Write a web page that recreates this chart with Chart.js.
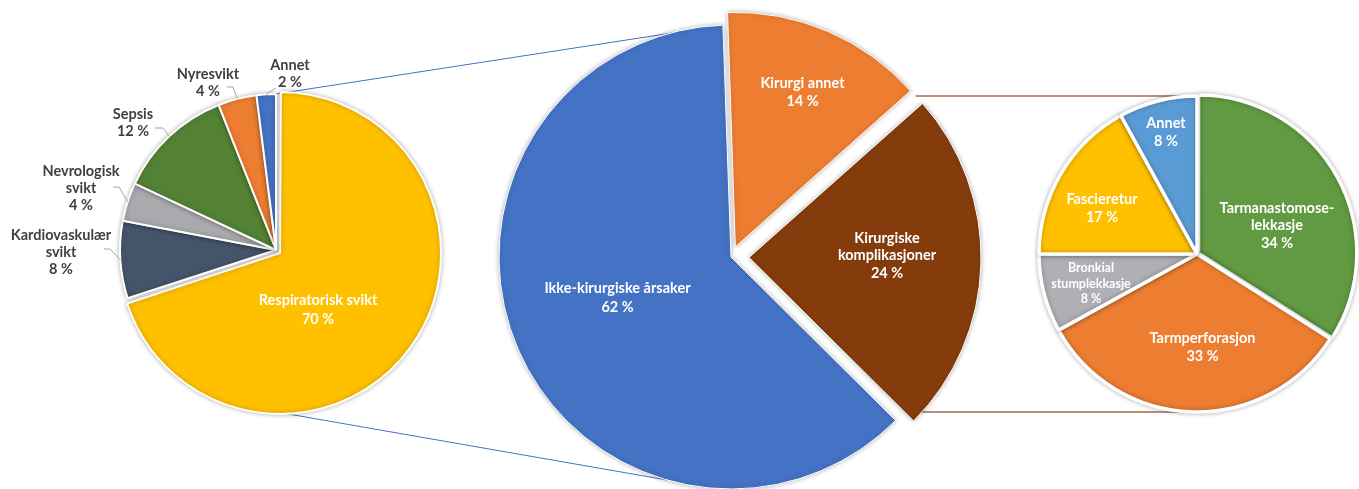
<!DOCTYPE html>
<html><head><meta charset="utf-8">
<script src="https://cdn.jsdelivr.net/npm/chart.js@4.4.1/dist/chart.umd.min.js"></script>
<style>
html,body{margin:0;padding:0;background:#fff;}
#wrap{position:relative;width:1359px;height:489px;overflow:hidden;background:#fff;}
canvas{position:absolute;left:0;top:0;}
</style></head><body>
<div id="wrap">
<canvas id="links" width="1359" height="489"></canvas>
<canvas id="mid" width="1359" height="489"></canvas>
<canvas id="left" width="1359" height="489"></canvas>
<canvas id="right" width="1359" height="489"></canvas>
</div>
<script>
// ---- data ----
const leftCategories = [['Respiratorisk svikt'], ['Kardiovaskulær', 'svikt'], ['Nevrologisk', 'svikt'], ['Sepsis'], ['Nyresvikt'], ['Annet']];
const leftValues = [70, 8, 4, 12, 4, 2];
const midCategories = [['Kirurgi annet'], ['Kirurgiske', 'komplikasjoner'], ['Ikke-kirurgiske årsaker']];
const midValues = [14, 24, 62];
const rightCategories = [['Tarmanastomose-', 'lekkasje'], ['Tarmperforasjon'], ['Bronkial', 'stumplekkasje'], ['Fascieretur'], ['Annet']];
const rightValues = [34, 33, 8, 17, 8];

// ---- styles / layout ----
const FONT = 'Lato';
const BASE_SIZE = 14.5;
const W = 1359, H = 489;
const leftColors = ['#FFC000', '#44546A', '#A9AAAD', '#548235', '#ED7D31', '#4472C4'];
const midColors = ['#ED7D31', '#843C0C', '#4472C4'];
const rightColors = ['#619A42', '#ED7D31', '#AFB0B3', '#FFC000', '#5B9BD5'];
const DARK = '#404040', WHITE = '#ffffff';

const leftLayout = [
  {dx: 42, dy: 59.5, color: WHITE, lh: 19},
  {dx: -215, dy: 2.5, color: DARK, leader: [-172, -1, 6]},
  {dx: -195, dy: -61.5, color: DARK, leader: [-163, -63, 6]},
  {dx: -143, dy: -127.5, color: DARK, leader: [-121, -122, 8]},
  {dx: -68, dy: -167.5, color: DARK, leader: [-49, -163, 6]},
  {dx: 14, dy: -176, color: DARK, leader: [0, -162, 0]}
];
const midLayout = [
  {dx: 71.5, dy: -164.5, color: WHITE, lh: 18.5},
  {dx: 156, dy: -1.5, color: WHITE, lh: 17.5},
  {dx: -113.5, dy: 40.5, color: WHITE, lh: 19}
];
const rightLayout = [
  {dx: 80, dy: -28.5, color: WHITE, lh: 17.5},
  {dx: 5.5, dy: 93, color: WHITE, lh: 18},
  {dx: -106, dy: 29.5, color: WHITE, size: 12.5, lh: 15.5},
  {dx: -95, dy: -46, color: WHITE, lh: 18},
  {dx: -31, dy: -122, color: WHITE, lh: 18}
];

function pad(cx, cy) {
  return {left: Math.max(0, 2 * cx - W), right: Math.max(0, W - 2 * cx),
          top: Math.max(0, 2 * cy - H), bottom: Math.max(0, H - 2 * cy)};
}

// the actual pixel shift Chart.js applies to an arc with a given offset
function arcShift(arc, offset) {
  const circ = arc.endAngle - arc.startAngle;
  const fix = 1 - Math.sin(Math.min(Math.PI, circ));
  return offset / 4 * (1 + fix);
}

const shadowPlugin = {
  id: 'softShadow',
  beforeDatasetsDraw(chart) {
    const ctx = chart.ctx;
    ctx.save();
    ctx.shadowColor = 'rgba(0,0,0,0.28)';
    ctx.shadowBlur = 5;
  },
  afterDatasetsDraw(chart) {
    chart.ctx.restore();
  }
};

function labelPlugin(layout) {
  return {
    id: 'sliceLabels',
    afterDatasetsDraw(chart) {
      const ctx = chart.ctx;
      const meta = chart.getDatasetMeta(0);
      const ds = chart.data.datasets[0];
      meta.data.forEach((arc, i) => {
        const L = layout[i];
        const cx = arc.x, cy = arc.y;
        const lines = [...chart.data.labels[i], ds.data[i] + ' %'];
        ctx.save();
        ctx.font = 'bold ' + (L.size || BASE_SIZE) + 'px ' + FONT;
        ctx.fillStyle = L.color;
        ctx.textAlign = 'center';
        ctx.textBaseline = 'middle';
        const lh = L.lh || 17;
        const x = cx + L.dx, y0 = cy + L.dy - (lines.length - 1) * lh / 2;
        lines.forEach((t, k) => ctx.fillText(t, x, y0 + k * lh));
        if (L.leader) {
          const a = (arc.startAngle + arc.endAngle) / 2;
          const r = arc.outerRadius;
          const ex = cx + Math.cos(a) * r, ey = cy + Math.sin(a) * r;
          const sx = cx + L.leader[0], sy = cy + L.leader[1];
          ctx.strokeStyle = '#a6a6a6';
          ctx.lineWidth = 1;
          ctx.beginPath();
          ctx.moveTo(sx, sy);
          ctx.lineTo(sx + L.leader[2], sy);
          ctx.lineTo(ex, ey);
          ctx.stroke();
        }
        ctx.restore();
      });
    }
  };
}

function makePie(id, labels, values, colors, opts, layout) {
  return new Chart(document.getElementById(id), {
    type: 'pie',
    data: {labels: labels, datasets: [{
      data: values, backgroundColor: colors, borderColor: '#ffffff',
      borderWidth: opts.border, offset: opts.offset, radius: opts.radius, rotation: opts.rotation || 0
    }]},
    options: {
      responsive: false, animation: false, devicePixelRatio: 1,
      layout: {padding: pad(opts.cx, opts.cy)},
      plugins: {legend: {display: false}, tooltip: {enabled: false}}
    },
    plugins: [shadowPlugin, labelPlugin(layout)]
  });
}

const midChart = makePie('mid', midCategories, midValues, midColors,
  {cx: 731, cy: 257, radius: 232, border: 1, offset: [44, 72, 0], rotation: -2}, midLayout);
const leftChart = makePie('left', leftCategories, leftValues, leftColors,
  {cx: 276, cy: 250, radius: 156, border: 2, offset: [20, 0, 0, 0, 0, 0]}, leftLayout);
const rightChart = makePie('right', rightCategories, rightValues, rightColors,
  {cx: 1197, cy: 254, radius: 158, border: 3.5, offset: [7, 0, 0, 0, 0]}, rightLayout);

// ---- connector lines (computed from the charts' arc geometry) ----
(function drawLinks() {
  const ctx = document.getElementById('links').getContext('2d');
  const l = leftChart.getDatasetMeta(0).data;
  const m = midChart.getDatasetMeta(0).data;
  const r = rightChart.getDatasetMeta(0).data;
  const lcx = l[0].x, lcy = l[0].y, lr = l[0].outerRadius;
  const mcx = m[0].x, mcy = m[0].y, mr = m[0].outerRadius;
  const rcx = r[0].x, rcy = r[0].y, rr = r[0].outerRadius;
  const lShift = arcShift(l[0], leftChart.data.datasets[0].offset[0]);
  const lMid = (l[0].startAngle + l[0].endAngle) / 2;

  ctx.strokeStyle = '#4472C4';
  ctx.lineWidth = 1;
  // top link
  const a1 = m[0].startAngle;
  ctx.beginPath();
  ctx.moveTo(lcx, lcy - lr);
  ctx.lineTo(mcx + Math.cos(a1) * mr, mcy + Math.sin(a1) * mr);
  ctx.stroke();
  // bottom link
  const a2 = 106 * Math.PI / 180;
  ctx.beginPath();
  ctx.moveTo(lcx, lcy + lr + lShift * Math.sin(lMid));
  ctx.lineTo(mcx + Math.cos(a2) * mr, mcy + Math.sin(a2) * mr);
  ctx.stroke();

  // brown links from the complication slice to the right pie
  const b = m[1];
  const bShift = arcShift(b, midChart.data.datasets[0].offset[1]);
  const bMid = (b.startAngle + b.endAngle) / 2;
  const bcx = mcx + Math.cos(bMid) * bShift, bcy = mcy + Math.sin(bMid) * bShift;
  ctx.strokeStyle = 'rgba(132,60,12,0.75)';
  ctx.lineWidth = 1.3;
  [rcy - rr, rcy + rr].forEach(y => {
    const x0 = bcx + Math.sqrt(Math.max(0, mr * mr - (y - bcy) * (y - bcy)));
    ctx.beginPath();
    ctx.moveTo(x0, y);
    ctx.lineTo(rcx - 7, y);
    ctx.stroke();
  });
})();
</script>
</body></html>
